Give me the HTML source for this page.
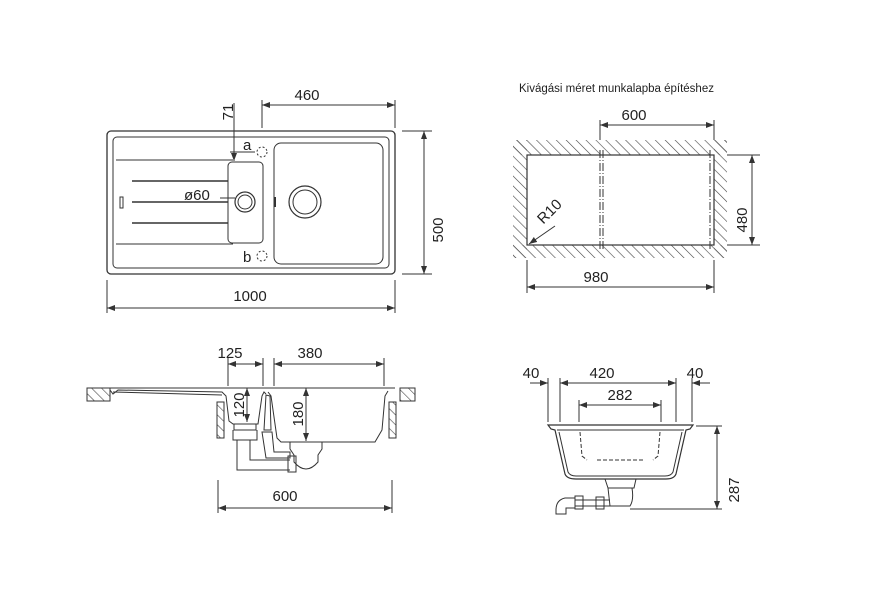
<!DOCTYPE html>
<html><head><meta charset="utf-8"><style>
html,body{margin:0;padding:0;background:#fff;}
svg{display:block;}
text{font-family:"Liberation Sans",sans-serif;fill:#222;}
</style></head><body>
<svg width="891" height="595" viewBox="0 0 891 595" xmlns="http://www.w3.org/2000/svg">
<defs>
<marker id="ar" markerWidth="8" markerHeight="6" refX="8" refY="3" orient="auto-start-reverse" markerUnits="userSpaceOnUse">
<path d="M0,0 L8,3 L0,6 z" fill="#333"/></marker>
<pattern id="h" width="7" height="7" patternUnits="userSpaceOnUse" patternTransform="rotate(-45)">
<line x1="0" y1="0" x2="0" y2="7" stroke="#444" stroke-width="1.2"/></pattern>
</defs>
<g fill="none" stroke="#333" stroke-width="1">
<!-- TOP VIEW -->
<rect x="107" y="131" width="288" height="143" rx="4" stroke-width="1.3"/>
<rect x="113" y="137" width="276" height="131" rx="4"/>
<rect x="274" y="143" width="109" height="121" rx="7"/>
<rect x="228" y="162" width="35" height="81" rx="4"/>
<line x1="116" y1="160" x2="233" y2="160"/>
<line x1="132" y1="181" x2="228" y2="181" stroke-width="1.5"/>
<line x1="132" y1="202" x2="228" y2="202" stroke-width="1.5"/>
<line x1="132" y1="223" x2="228" y2="223" stroke-width="1.5"/>
<line x1="116" y1="244" x2="233" y2="244"/>
<rect x="120" y="197" width="3" height="11"/>
<line x1="275" y1="197" x2="275" y2="207" stroke-width="2"/>
<circle cx="245" cy="202" r="10" stroke-width="1.2"/><circle cx="245" cy="202" r="7"/>
<circle cx="305" cy="202" r="16" stroke-width="1.2"/><circle cx="305" cy="202" r="12"/>
<circle cx="262" cy="152" r="5" stroke-dasharray="2,2"/>
<circle cx="262" cy="256" r="5" stroke-dasharray="2,2"/>
<line x1="220" y1="198" x2="235" y2="198"/>
<line x1="234" y1="103" x2="234" y2="161" marker-end="url(#ar)"/>
<line x1="230" y1="152" x2="255" y2="152"/>
<line x1="262" y1="100" x2="262" y2="128"/><line x1="395" y1="100" x2="395" y2="128"/>
<line x1="262" y1="105" x2="395" y2="105" marker-start="url(#ar)" marker-end="url(#ar)"/>
<line x1="402" y1="131" x2="432" y2="131"/><line x1="402" y1="274" x2="432" y2="274"/>
<line x1="424" y1="131" x2="424" y2="274" marker-start="url(#ar)" marker-end="url(#ar)"/>
<line x1="107" y1="280" x2="107" y2="313"/><line x1="395" y1="280" x2="395" y2="313"/>
<line x1="107" y1="308" x2="395" y2="308" marker-start="url(#ar)" marker-end="url(#ar)"/>

<!-- CUTOUT -->
<rect x="513" y="140" width="214" height="15" fill="url(#h)" stroke="none"/>
<rect x="513" y="245" width="214" height="13" fill="url(#h)" stroke="none"/>
<rect x="513" y="140" width="14" height="118" fill="url(#h)" stroke="none"/>
<rect x="714" y="140" width="13" height="118" fill="url(#h)" stroke="none"/>
<rect x="527" y="155" width="187" height="90" fill="#fff" stroke-width="1.2"/>
<line x1="600" y1="150" x2="600" y2="250" stroke-dasharray="8,2,1,2"/>
<line x1="603" y1="150" x2="603" y2="250" stroke-dasharray="8,2,1,2"/>
<line x1="710" y1="150" x2="710" y2="250" stroke-dasharray="8,2,1,2"/>
<line x1="600" y1="120" x2="600" y2="140"/><line x1="714" y1="120" x2="714" y2="140"/>
<line x1="600" y1="125" x2="714" y2="125" marker-start="url(#ar)" marker-end="url(#ar)"/>
<line x1="727" y1="155" x2="760" y2="155"/><line x1="727" y1="245" x2="760" y2="245"/>
<line x1="752" y1="155" x2="752" y2="245" marker-start="url(#ar)" marker-end="url(#ar)"/>
<line x1="527" y1="260" x2="527" y2="293"/><line x1="714" y1="260" x2="714" y2="293"/>
<line x1="527" y1="287" x2="714" y2="287" marker-start="url(#ar)" marker-end="url(#ar)"/>
<line x1="555" y1="226" x2="529" y2="244" marker-end="url(#ar)"/>

<!-- SIDE VIEW -->
<rect x="87" y="388" width="23" height="13" fill="url(#h)"/>
<rect x="400" y="388" width="15" height="13" fill="url(#h)"/>
<rect x="217" y="402" width="7" height="36" fill="url(#h)"/>
<rect x="389" y="402" width="7" height="36" fill="url(#h)"/>
<path d="M110,388 L395,388"/>
<path d="M110,390 L113,394 L118,390 L222,392 L226,396 L229,421 L233,424 L258,424 L262,396 L264,392 L266,394"/>
<path d="M113,392 L222,395"/>
<path d="M268,392 L271,396 L277,438 L281,442 L375,442 L382,430 L385,396 L388,391"/>
<path d="M234,424 L234,430 L256,430 L256,424 M233,430 L233,440 L257,440 L257,430 M237,440 L237,470 L290,470 M250,440 L250,460 L290,460"/>
<path d="M288,456 L296,456 L296,472 L288,472 z"/>
<path d="M266,395 L270,396 L271,430 L264,430 z"/>
<path d="M262,432 L272,432 L274,452 L290,452 L290,458 L266,458 z"/>
<path d="M290,442 L322,442 L322,449 L318,455 L318,462 Q306,476 294,462 L294,455 L290,449 z"/>
<line x1="228" y1="358" x2="228" y2="386"/><line x1="263" y1="358" x2="263" y2="386"/>
<line x1="228" y1="364" x2="263" y2="364" marker-start="url(#ar)" marker-end="url(#ar)"/>
<line x1="274" y1="358" x2="274" y2="386"/><line x1="384" y1="358" x2="384" y2="386"/>
<line x1="274" y1="364" x2="384" y2="364" marker-start="url(#ar)" marker-end="url(#ar)"/>
<line x1="247" y1="388" x2="247" y2="422" marker-start="url(#ar)" marker-end="url(#ar)"/>
<line x1="306" y1="388" x2="306" y2="441" marker-start="url(#ar)" marker-end="url(#ar)"/>
<line x1="218" y1="480" x2="218" y2="513"/><line x1="392" y1="480" x2="392" y2="513"/>
<line x1="218" y1="508" x2="392" y2="508" marker-start="url(#ar)" marker-end="url(#ar)"/>

<!-- FRONT VIEW -->
<path d="M548,425 L693,425 L690,429 L686,430 L676,474 Q674,479 666,479 L576,479 Q567,479 565,474 L555,430 L551,429 z" stroke-width="1.2"/>
<path d="M557,430 L684,430 M559,432 L568,472 Q570,476 576,476 L665,476 Q671,476 673,472 L682,432"/>
<path d="M580,432 L582,456 L587,460 M660,432 L658,456 L653,460 M597,460 L645,460" stroke-dasharray="4,2"/>
<path d="M605,479 L608,488 L634,488 L636,479 M608,488 L610,506 L630,506 Q634,500 632,488"/>
<path d="M610,500 L575,500 M610,506 L575,506"/>
<rect x="596" y="497" width="8" height="12"/><rect x="575" y="496" width="8" height="13"/>
<path d="M575,498 L565,498 Q556,500 556,510 L556,514 L566,514 L566,508 L575,508"/>
<line x1="630" y1="509" x2="722" y2="509"/>
<line x1="696" y1="426" x2="722" y2="426"/>
<line x1="717" y1="426" x2="717" y2="509" marker-start="url(#ar)" marker-end="url(#ar)"/>
<line x1="548" y1="378" x2="548" y2="422"/><line x1="560" y1="378" x2="560" y2="422"/>
<line x1="676" y1="378" x2="676" y2="422"/><line x1="692" y1="378" x2="692" y2="422"/>
<line x1="530" y1="383" x2="548" y2="383" marker-end="url(#ar)"/>
<line x1="560" y1="383" x2="676" y2="383" marker-start="url(#ar)" marker-end="url(#ar)"/>
<line x1="710" y1="383" x2="692" y2="383" marker-end="url(#ar)"/>
<line x1="579" y1="400" x2="579" y2="422"/><line x1="661" y1="400" x2="661" y2="422"/>
<line x1="579" y1="405" x2="661" y2="405" marker-start="url(#ar)" marker-end="url(#ar)"/>
</g>
<g font-size="15">
<text x="307" y="100" text-anchor="middle">460</text>
<text x="250" y="301" text-anchor="middle">1000</text>
<text transform="translate(443,230) rotate(-90)" text-anchor="middle">500</text>
<text transform="translate(233,112) rotate(-90)" text-anchor="middle">71</text>
<text x="243" y="150">a</text>
<text x="243" y="262">b</text>
<text x="184" y="200">ø60</text>
<text x="519" y="92" font-size="11.5">Kivágási méret munkalapba építéshez</text>
<text x="634" y="120" text-anchor="middle">600</text>
<text x="596" y="282" text-anchor="middle">980</text>
<text transform="translate(747,220) rotate(-90)" text-anchor="middle">480</text>
<text transform="translate(553,215) rotate(-45)" text-anchor="middle">R10</text>
<text x="230" y="358" text-anchor="middle">125</text>
<text x="310" y="358" text-anchor="middle">380</text>
<text transform="translate(244,405) rotate(-90)" text-anchor="middle">120</text>
<text transform="translate(303,414) rotate(-90)" text-anchor="middle">180</text>
<text x="285" y="501" text-anchor="middle">600</text>
<text x="531" y="378" text-anchor="middle">40</text>
<text x="602" y="378" text-anchor="middle">420</text>
<text x="695" y="378" text-anchor="middle">40</text>
<text x="620" y="400" text-anchor="middle">282</text>
<text transform="translate(739,490) rotate(-90)" text-anchor="middle">287</text>
</g>
</svg>
</body></html>
